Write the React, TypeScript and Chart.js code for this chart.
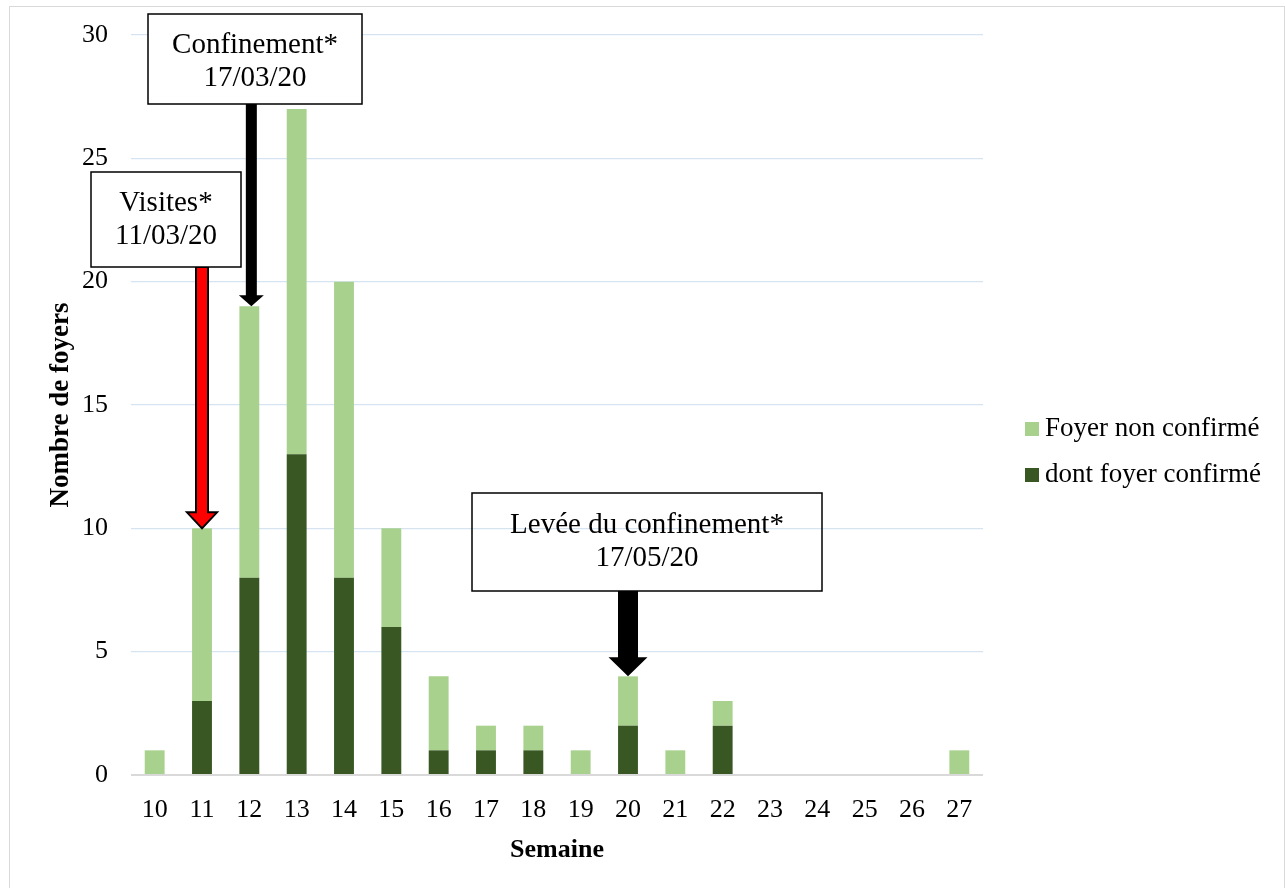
import React, { useEffect, useRef } from "react";
import { Chart, registerables } from "chart.js";

Chart.register(...registerables);

// ---- Data ----
const weeks = ["10", "11", "12", "13", "14", "15", "16", "17", "18", "19", "20", "21", "22", "23", "24", "25", "26", "27"];
const confirmed = [0, 3, 8, 13, 8, 6, 1, 1, 1, 0, 2, 0, 2, 0, 0, 0, 0, 0];
const nonConfirmed = [1, 7, 11, 14, 12, 4, 3, 1, 1, 1, 2, 1, 1, 0, 0, 0, 0, 1];
const seriesLabels = ["dont foyer confirmé", "Foyer non confirmé"];
const yTickMax = 30;
const yTickStep = 5;
const xTitle = "Semaine";
const yTitle = "Nombre de foyers";

const annotationTexts = [
  ["Visites*", "11/03/20"],
  ["Confinement*", "17/03/20"],
  ["Levée du confinement*", "17/05/20"],
];
const annotationWeeks = ["11", "12", "20"];

// ---- Styles / layout ----
const DARK = "#385723";
const LIGHT = "#A9D18E";
const FONT = '"Liberation Serif", "Times New Roman", serif';

const annotationLayout = [
  { box: [91, 172, 241, 267], fill: "#ffffff", shaft: 12, head: 30, headLen: 16, color: "#FF0000", outline: true, dx: 0, ty: 0 },
  { box: [148, 14, 362, 104], fill: "#ffffff", shaft: 11, head: 25, headLen: 11, color: "#000000", outline: false, dx: 2, ty: 3 },
  { box: [472, 493, 822, 591], fill: null, shaft: 20, head: 39, headLen: 19, color: "#000000", outline: false, dx: 0, ty: 0 },
];

const annotationPlugin = {
  id: "annotArrows",
  afterDatasetsDraw(chart: any) {
    const { ctx } = chart;
    const xs = chart.scales.x;
    const ys = chart.scales.y;
    annotationWeeks.forEach((wk, i) => {
      const idx = weeks.indexOf(wk);
      const total = confirmed[idx] + nonConfirmed[idx];
      const L = annotationLayout[i];
      const tipX = xs.getPixelForValue(idx) + L.dx;
      const tipY = ys.getPixelForValue(total);
      const [bx1, by1, bx2, by2] = L.box;
      ctx.save();
      ctx.beginPath();
      const hs = L.shaft / 2;
      const hh = L.head / 2;
      const baseY = tipY - L.headLen;
      ctx.moveTo(tipX - hs, by2);
      ctx.lineTo(tipX + hs, by2);
      ctx.lineTo(tipX + hs, baseY);
      ctx.lineTo(tipX + hh, baseY);
      ctx.lineTo(tipX, tipY);
      ctx.lineTo(tipX - hh, baseY);
      ctx.lineTo(tipX - hs, baseY);
      ctx.closePath();
      ctx.fillStyle = L.color;
      ctx.fill();
      if (L.outline) {
        ctx.strokeStyle = "#000";
        ctx.lineWidth = 2;
        ctx.stroke();
      }
      if (L.fill) {
        ctx.fillStyle = L.fill;
        ctx.fillRect(bx1, by1, bx2 - bx1, by2 - by1);
      }
      ctx.strokeStyle = "#000";
      ctx.lineWidth = 1.5;
      ctx.strokeRect(bx1, by1, bx2 - bx1, by2 - by1);
      ctx.fillStyle = "#000";
      ctx.font = `29px ${FONT}`;
      ctx.textAlign = "center";
      ctx.textBaseline = "middle";
      const lines = annotationTexts[i];
      const cx = (bx1 + bx2) / 2;
      const cy = (by1 + by2) / 2 + L.ty;
      const lh = 33;
      lines.forEach((t, k) => {
        ctx.fillText(t, cx, cy + (k - (lines.length - 1) / 2) * lh);
      });
      ctx.restore();
    });
  },
};

const legendPlugin = {
  id: "customLegend",
  afterDraw(chart: any) {
    const { ctx } = chart;
    const items = chart.data.datasets.map((d: any) => ({ label: d.label, color: d.backgroundColor })).reverse();
    ctx.save();
    ctx.font = `27px ${FONT}`;
    ctx.textAlign = "left";
    ctx.textBaseline = "middle";
    items.forEach((it: any, k: number) => {
      const cy = 429 + k * 46;
      ctx.fillStyle = it.color;
      ctx.fillRect(1025, cy - 7, 14, 14);
      ctx.fillStyle = "#000";
      ctx.fillText(it.label, 1045, cy);
    });
    ctx.restore();
  },
};

export default function App() {
  const ref = useRef<HTMLCanvasElement | null>(null);
  useEffect(() => {
    if (!ref.current) return;
    Chart.defaults.font.family = FONT;
    Chart.defaults.color = "#000";
    const chart = new Chart(ref.current, {
      type: "bar",
      data: {
        labels: weeks,
        datasets: [
          { label: seriesLabels[0], data: confirmed, backgroundColor: DARK, barPercentage: 0.42, categoryPercentage: 1 },
          { label: seriesLabels[1], data: nonConfirmed, backgroundColor: LIGHT, barPercentage: 0.42, categoryPercentage: 1 },
        ],
      },
      options: {
        animation: false,
        responsive: true,
        maintainAspectRatio: false,
        layout: { padding: { left: 0, top: 35, right: 302, bottom: 0 } },
        plugins: { legend: { display: false }, tooltip: { enabled: false } },
        scales: {
          x: {
            stacked: true,
            grid: { display: false },
            border: { display: false },
            ticks: { font: { size: 26 }, padding: 12, color: "#000" },
            title: { display: true, text: xTitle, font: { size: 26, weight: "bold" }, padding: { top: 0, bottom: 22 }, color: "#000" },
            afterFit: (s: any) => { s.height = 113; s.paddingLeft = 0; s.paddingRight = 0; },
          },
          y: {
            stacked: true,
            min: 0,
            max: yTickMax,
            ticks: { stepSize: yTickStep, font: { size: 26 }, padding: 23, color: "#000" },
            grid: {
              drawTicks: false,
              color: (c: any) => (c.tick && c.tick.value === 0 ? "#D9D9D9" : "#D6E4F1"),
              lineWidth: (c: any) => (c.tick && c.tick.value === 0 ? 2 : 1.3),
            },
            border: { display: false },
            title: { display: true, text: yTitle, font: { size: 27, weight: "bold" }, padding: { top: 45, bottom: 0 }, color: "#000" },
            afterFit: (s: any) => { s.width = 131; s.paddingTop = 0; s.paddingBottom = 0; },
          },
        },
      },
      plugins: [annotationPlugin, legendPlugin],
    } as any);
    return () => chart.destroy();
  }, []);
  return (
    <div style={{ position: "absolute", left: 0, top: 0, width: 1285, height: 888, background: "#fff", overflow: "hidden" }}>
      <div style={{ position: "absolute", left: 9, top: 6, width: 1276, height: 890, border: "1.5px solid #D9D9D9", boxSizing: "border-box" }} />
      <canvas ref={ref} style={{ position: "absolute", left: 0, top: 0 }} />
    </div>
  );
}
